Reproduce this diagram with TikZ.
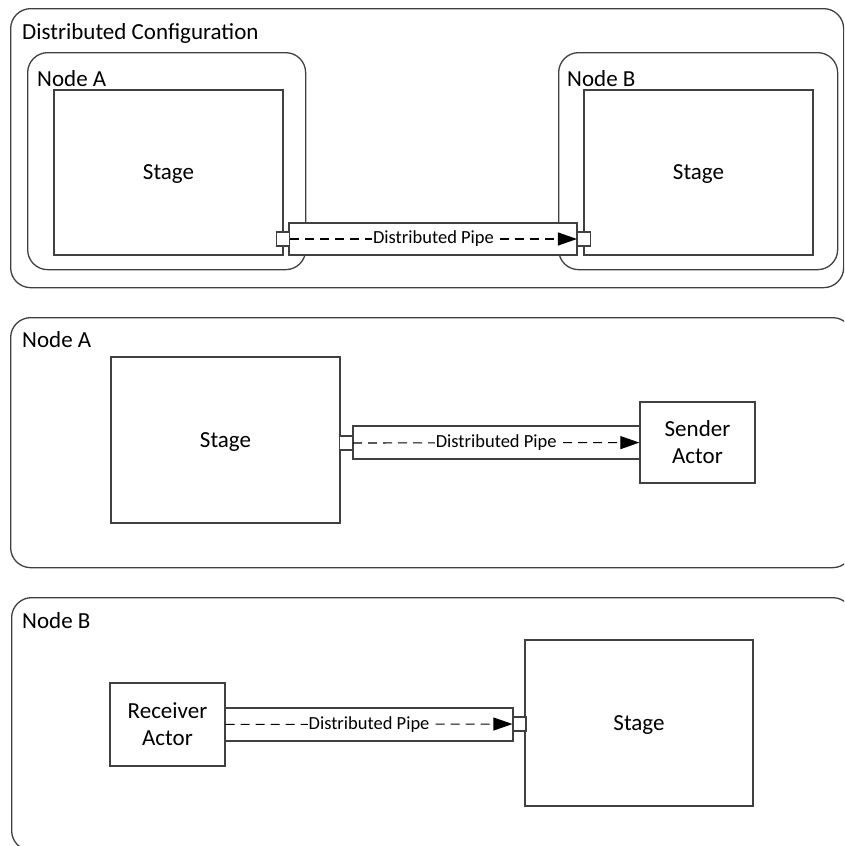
\documentclass[tikz,border=0pt]{standalone}
\usepackage{fontspec}
\setmainfont{Carlito}
\usetikzlibrary{arrows.meta,positioning}
\definecolor{edgegray}{HTML}{404040}
\tikzset{
    panel/.style={draw=edgegray, line width=1.3pt, rounded corners=20pt, anchor=north west, inner sep=0pt},
    box/.style={draw=edgegray, line width=1.3pt, fill=white, align=center, inner sep=0pt, text depth=0pt, font=\fontsize{23}{27}\selectfont},
    port/.style={draw=edgegray, line width=1.1pt, fill=white, minimum width=13pt, minimum height=14pt, inner sep=0pt},
    pipe/.style={draw=edgegray, line width=1.3pt, fill=white, inner sep=0pt, minimum height=32pt},
    flow/.style={-{Triangle[length=19pt, width=13pt]}, line width=1.1pt, dash pattern=on 9pt off 6pt, black},
    tag/.style={fill=white, inner sep=1pt, font=\fontsize{18.5}{22}\selectfont},
    title/.style={anchor=base west, inner sep=0pt, font=\fontsize{23}{27}\selectfont}
}

\begin{document}
\begin{tikzpicture}[x=1pt, y=-1pt]
    \useasboundingbox (0,0) rectangle (844,846);
    \clip (0,0) rectangle (844,846);

    % Distributed configuration
    \node[panel, minimum width=833pt, minimum height=279pt] (config) at (10,8) {};
    \node[title] (configTitle) at (22,39.5) {Distributed Configuration};
    \node[panel, minimum width=278pt, minimum height=217pt] (hostA) at (27,52) {};
    \node[title] (hostATitle) at (37,86) {Node A};
    \node[panel, minimum width=279pt, minimum height=217pt] (hostB) at (558,52) {};
    \node[title] (hostBTitle) at (567,86) {Node B};
    \node[pipe, minimum width=288pt] (pipeAB) at (433,239) {};
    \node[box, minimum width=229pt, minimum height=165pt] (stageA) at (168.5,172.5) {Stage};
    \node[box, minimum width=229pt, minimum height=165pt] (stageB) at (698.5,172.5) {Stage};
    \node[port] (outA) at (283,239) {};
    \node[port] (inB) at (584,239) {};
    \draw[flow] (outA) -- node[tag] {Distributed Pipe} (inB);

    % Node A on its own
    \node[panel, minimum width=842pt, minimum height=250pt] (hostA2) at (10,317) {};
    \node[title] (hostA2Title) at (22,347) {Node A};
    \node[pipe, minimum width=287pt, minimum height=33pt] (pipeA) at (496.5,442.5) {};
    \node[box, minimum width=229pt, minimum height=166pt] (stageA2) at (225.5,440) {Stage};
    \node[box, minimum width=115pt, minimum height=81pt] (sender) at (697.5,442.5) {Sender\\Actor};
    \node[port] (outA2) at (346,443) {};
    \draw[flow] (outA2) -- node[tag] {Distributed Pipe} (sender);

    % Node B on its own
    \node[panel, minimum width=841pt, minimum height=253pt] (hostB2) at (11,597) {};
    \node[title] (hostB2Title) at (22,628) {Node B};
    \node[pipe, minimum width=288pt, minimum height=33pt] (pipeB) at (369,724.5) {};
    \node[box, minimum width=115pt, minimum height=83pt] (receiver) at (167.5,724.5) {Receiver\\Actor};
    \node[box, minimum width=228pt, minimum height=166pt] (stageB2) at (639,723) {Stage};
    \node[port] (inB2) at (519.5,724) {};
    \draw[flow] (receiver) -- node[tag] {Distributed Pipe} (inB2);
\end{tikzpicture}
\end{document}
